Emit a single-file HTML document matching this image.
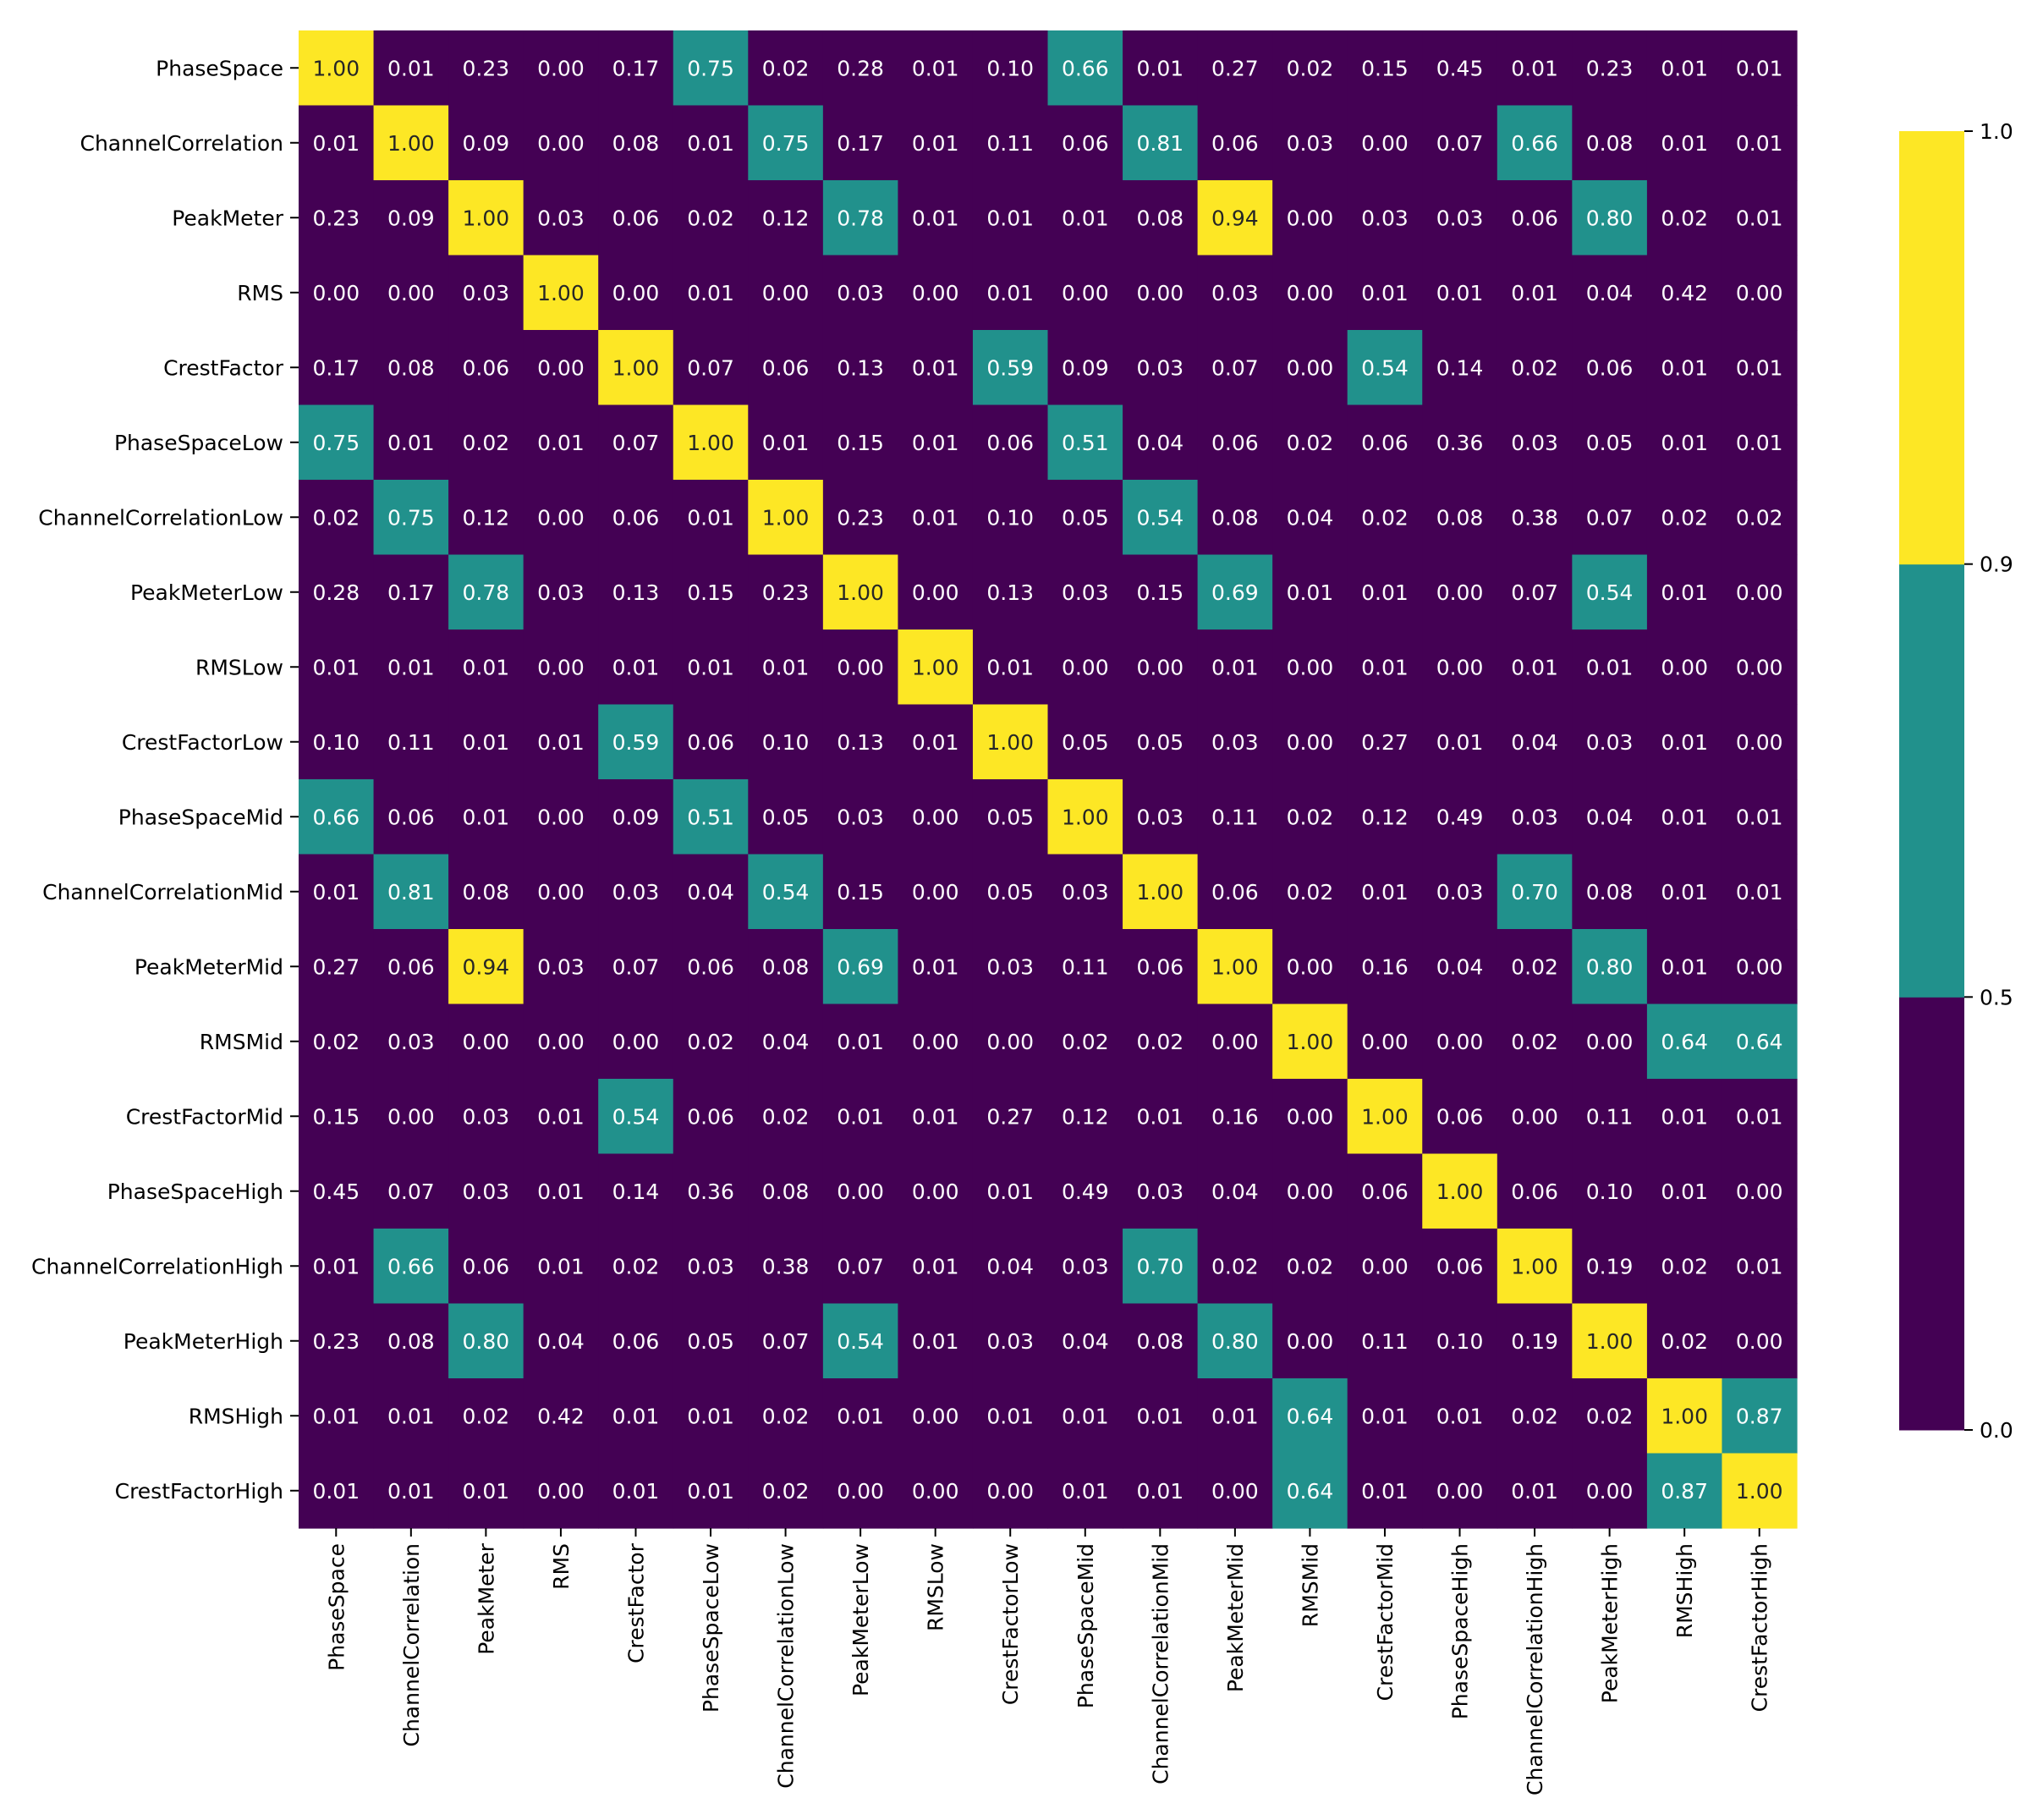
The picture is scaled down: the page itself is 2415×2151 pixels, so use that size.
<!DOCTYPE html>
<html><head><meta charset="utf-8"><style>
html,body{margin:0;padding:0;background:#fff;}
svg text{font-family:"DejaVu Sans","Liberation Sans",sans-serif;}
</style></head><body>
<svg id="chart" xmlns="http://www.w3.org/2000/svg" width="2415" height="2146" viewBox="0 0 2415 2146">
<rect width="2415" height="2146" fill="#fff"/>
<g id="cells"></g>
<g id="yticks"></g>
<g id="xticks"></g>
<g id="cbar"></g>
</svg>
<script>
const labels = ["PhaseSpace","ChannelCorrelation","PeakMeter","RMS","CrestFactor","PhaseSpaceLow","ChannelCorrelationLow","PeakMeterLow","RMSLow","CrestFactorLow","PhaseSpaceMid","ChannelCorrelationMid","PeakMeterMid","RMSMid","CrestFactorMid","PhaseSpaceHigh","ChannelCorrelationHigh","PeakMeterHigh","RMSHigh","CrestFactorHigh"];
const values = [
[1.00,0.01,0.23,0.00,0.17,0.75,0.02,0.28,0.01,0.10,0.66,0.01,0.27,0.02,0.15,0.45,0.01,0.23,0.01,0.01],
[0.01,1.00,0.09,0.00,0.08,0.01,0.75,0.17,0.01,0.11,0.06,0.81,0.06,0.03,0.00,0.07,0.66,0.08,0.01,0.01],
[0.23,0.09,1.00,0.03,0.06,0.02,0.12,0.78,0.01,0.01,0.01,0.08,0.94,0.00,0.03,0.03,0.06,0.80,0.02,0.01],
[0.00,0.00,0.03,1.00,0.00,0.01,0.00,0.03,0.00,0.01,0.00,0.00,0.03,0.00,0.01,0.01,0.01,0.04,0.42,0.00],
[0.17,0.08,0.06,0.00,1.00,0.07,0.06,0.13,0.01,0.59,0.09,0.03,0.07,0.00,0.54,0.14,0.02,0.06,0.01,0.01],
[0.75,0.01,0.02,0.01,0.07,1.00,0.01,0.15,0.01,0.06,0.51,0.04,0.06,0.02,0.06,0.36,0.03,0.05,0.01,0.01],
[0.02,0.75,0.12,0.00,0.06,0.01,1.00,0.23,0.01,0.10,0.05,0.54,0.08,0.04,0.02,0.08,0.38,0.07,0.02,0.02],
[0.28,0.17,0.78,0.03,0.13,0.15,0.23,1.00,0.00,0.13,0.03,0.15,0.69,0.01,0.01,0.00,0.07,0.54,0.01,0.00],
[0.01,0.01,0.01,0.00,0.01,0.01,0.01,0.00,1.00,0.01,0.00,0.00,0.01,0.00,0.01,0.00,0.01,0.01,0.00,0.00],
[0.10,0.11,0.01,0.01,0.59,0.06,0.10,0.13,0.01,1.00,0.05,0.05,0.03,0.00,0.27,0.01,0.04,0.03,0.01,0.00],
[0.66,0.06,0.01,0.00,0.09,0.51,0.05,0.03,0.00,0.05,1.00,0.03,0.11,0.02,0.12,0.49,0.03,0.04,0.01,0.01],
[0.01,0.81,0.08,0.00,0.03,0.04,0.54,0.15,0.00,0.05,0.03,1.00,0.06,0.02,0.01,0.03,0.70,0.08,0.01,0.01],
[0.27,0.06,0.94,0.03,0.07,0.06,0.08,0.69,0.01,0.03,0.11,0.06,1.00,0.00,0.16,0.04,0.02,0.80,0.01,0.00],
[0.02,0.03,0.00,0.00,0.00,0.02,0.04,0.01,0.00,0.00,0.02,0.02,0.00,1.00,0.00,0.00,0.02,0.00,0.64,0.64],
[0.15,0.00,0.03,0.01,0.54,0.06,0.02,0.01,0.01,0.27,0.12,0.01,0.16,0.00,1.00,0.06,0.00,0.11,0.01,0.01],
[0.45,0.07,0.03,0.01,0.14,0.36,0.08,0.00,0.00,0.01,0.49,0.03,0.04,0.00,0.06,1.00,0.06,0.10,0.01,0.00],
[0.01,0.66,0.06,0.01,0.02,0.03,0.38,0.07,0.01,0.04,0.03,0.70,0.02,0.02,0.00,0.06,1.00,0.19,0.02,0.01],
[0.23,0.08,0.80,0.04,0.06,0.05,0.07,0.54,0.01,0.03,0.04,0.08,0.80,0.00,0.11,0.10,0.19,1.00,0.02,0.00],
[0.01,0.01,0.02,0.42,0.01,0.01,0.02,0.01,0.00,0.01,0.01,0.01,0.01,0.64,0.01,0.01,0.02,0.02,1.00,0.87],
[0.01,0.01,0.01,0.00,0.01,0.01,0.02,0.00,0.00,0.00,0.01,0.01,0.00,0.64,0.01,0.00,0.01,0.00,0.87,1.00]
];
const bounds = [0.0, 0.5, 0.9, 1.0];
const boundLabels = ["0.0","0.5","0.9","1.0"];
const colors = ["#440154","#21918c","#fde725"];

const NS="http://www.w3.org/2000/svg";
const L=353, T=36, W=1771, H=1770;
const FS='25';
const n=labels.length, cw=W/n, ch=H/n;
const xPos=j=>L+cw*j, yPos=i=>T+ch*i;
function colorOf(v){let k=0;for(let b=1;b<bounds.length-1;b++){if(v>=bounds[b])k=b;}return k;}
function mk(tag,attrs,parent){const e=document.createElementNS(NS,tag);for(const a in attrs)e.setAttribute(a,attrs[a]);parent.appendChild(e);return e;}
const cells=document.getElementById('cells');
for(let i=0;i<n;i++)for(let j=0;j<n;j++){
  const v=values[i][j],k=colorOf(v);
  const r=mk('rect',{x:xPos(j),y:yPos(i),width:cw+0.6,height:ch+0.6,fill:colors[k]},cells);
  
  
  const t=mk('text',{x:xPos(j)+cw/2,y:yPos(i)+ch/2+9,'text-anchor':'middle','font-size':FS,fill:k===2?'#262626':'#ffffff'},cells);
  t.textContent=v.toFixed(2);
  
  
}
const yt=document.getElementById('yticks'), xt=document.getElementById('xticks');
for(let i=0;i<n;i++){
  const cy=yPos(i)+ch/2;
  mk('line',{x1:L-10,y1:cy,x2:L,y2:cy,stroke:'#000','stroke-width':2},yt);
  const t=mk('text',{x:L-18,y:cy+9,'text-anchor':'end','font-size':FS,fill:'#000'},yt);
  t.textContent=labels[i];
  
  
  const cx=xPos(i)+cw/2, by=T+H;
  mk('line',{x1:cx,y1:by,x2:cx,y2:by+10,stroke:'#000','stroke-width':2},xt);
  const tx=mk('text',{x:0,y:0,'text-anchor':'end','font-size':FS,fill:'#000',transform:`translate(${cx+9},${by+18}) rotate(-90)`},xt);
  tx.textContent=labels[i];
  
  
}
const cb=document.getElementById('cbar');
const CX=2245, CW=77, CT=155, CB=1690;
const seg=(CB-CT)/(bounds.length-1);
const cbY=k=>CB-seg*k;
for(let k=0;k<colors.length;k++){
  const r=mk('rect',{x:CX,y:cbY(k+1),width:CW,height:seg+0.5,fill:colors[k]},cb);
  
  
}
for(let k=0;k<bounds.length;k++){
  const y=cbY(k);
  mk('line',{x1:CX+CW,y1:y,x2:CX+CW+10,y2:y,stroke:'#000','stroke-width':2},cb);
  const t=mk('text',{x:CX+CW+18,y:y+9,'font-size':FS,fill:'#000'},cb);
  t.textContent=boundLabels[k];
  
  
}
</script>
</body></html>
